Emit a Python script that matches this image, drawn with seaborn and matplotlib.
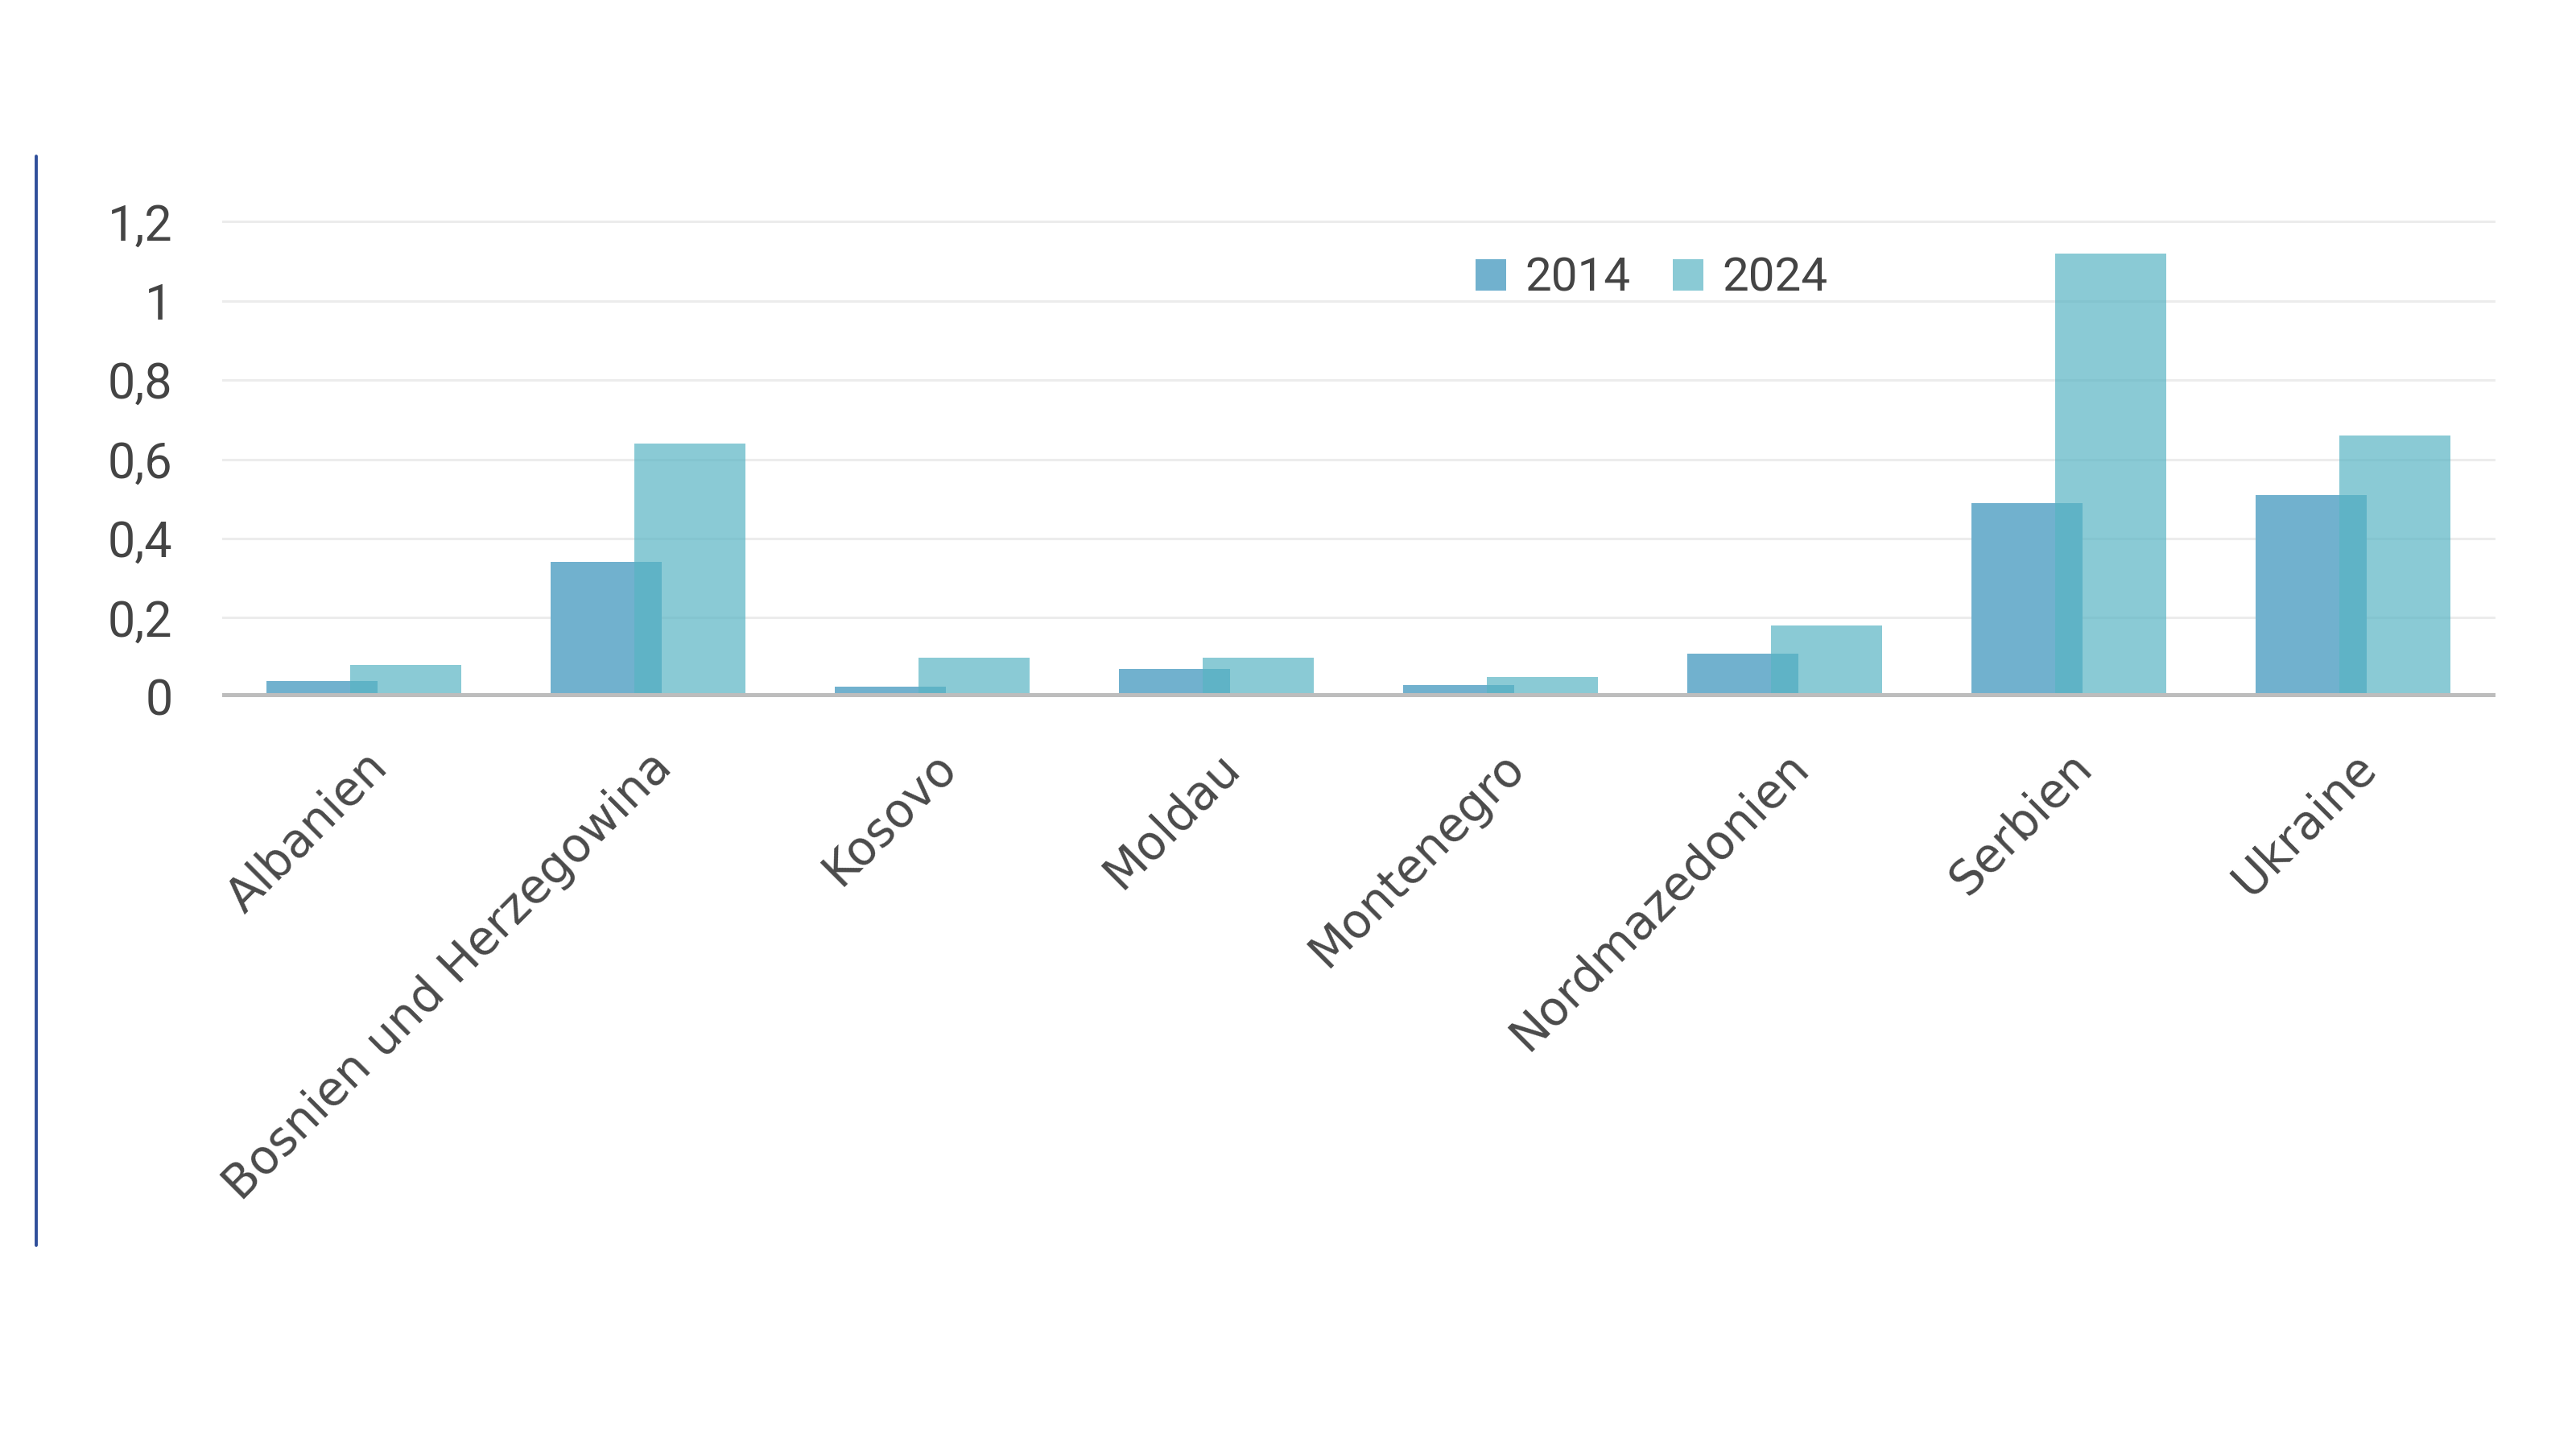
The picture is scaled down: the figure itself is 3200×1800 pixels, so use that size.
import numpy as np
import pandas as pd
import seaborn as sns
import matplotlib.pyplot as plt
from matplotlib.lines import Line2D
from matplotlib.ticker import FuncFormatter
import matplotlib.transforms as mtrans

# values
countries = ["Albanien", "Bosnien und Herzegowina", "Kosovo", "Moldau",
             "Montenegro", "Nordmazedonien", "Serbien", "Ukraine"]
v2014 = [0.04, 0.34, 0.025, 0.07, 0.03, 0.11, 0.49, 0.51]
v2024 = [0.08, 0.64, 0.10, 0.10, 0.05, 0.18, 1.12, 0.66]
yticks = [0, 0.2, 0.4, 0.6, 0.8, 1.0, 1.2]

c2014 = "#71b1ce"
c2024 = "#58b4c4"

sns.set_theme(style="white")
plt.rcParams['font.family'] = ['Roboto', 'DejaVu Sans']

idx = np.arange(len(countries))
df = pd.DataFrame({
    "pos": np.concatenate([idx - 0.147, idx + 0.147]),
    "value": v2014 + v2024,
    "year": ["2014"] * len(countries) + ["2024"] * len(countries),
})

fig = plt.figure(figsize=(16, 9), dpi=200)
ax = fig.add_axes([0.0861, 0.519, 0.8825, 0.3554])

d14 = df[df.year == "2014"]
d24 = df[df.year == "2024"]
sns.barplot(data=d14, x="pos", y="value", native_scale=True, width=0.391,
            color=c2014, saturation=1, linewidth=0, label="2014", ax=ax, zorder=2)
sns.barplot(data=d24, x="pos", y="value", native_scale=True, width=0.391,
            color=c2024, saturation=1, linewidth=0, alpha=0.7, label="2024",
            ax=ax, zorder=2)

ax.set_xlim(-0.5, len(countries) - 0.5)
ax.set_ylim(0, 1.3)
ax.set_yticks(yticks)
ax.yaxis.set_major_formatter(FuncFormatter(
    lambda v, p: ("%g" % round(v, 1)).replace(".", ",")))
ax.grid(axis="y", color="#ececec", linewidth=1.1, zorder=0)
ax.set_axisbelow(True)
ax.axhline(0, color="#bdbdbd", linewidth=4, zorder=3)

ax.set_xticks(idx)
ax.set_xticklabels(countries, rotation=45, ha="right", rotation_mode="anchor",
                   fontsize=21, color="#4a4a4a", family=["DejaVu Sans"])
shift = mtrans.ScaledTranslation(-8 / 72, 0, fig.dpi_scale_trans)
for lab in ax.get_xticklabels():
    lab.set_transform(lab.get_transform() + shift)
ax.tick_params(axis="x", length=0, pad=21)
ax.tick_params(axis="y", length=0, pad=22, labelsize=22, labelcolor="#444444")
ax.set_xlabel("")
ax.set_ylabel("")
for s in ax.spines.values():
    s.set_visible(False)

leg = ax.legend(loc="center", bbox_to_anchor=(0.629, 0.812), ncol=2, frameon=False,
                fontsize=21, handlelength=0.65, handleheight=0.65,
                handletextpad=0.4, columnspacing=0.9, labelcolor="#444444")

# blue vertical rule on the left edge
fig.add_artist(Line2D([45 / 3200, 45 / 3200], [1 - 194 / 1800, 1 - 1547 / 1800],
                      color="#2f4f9a", linewidth=1.4, transform=fig.transFigure))

fig.savefig("out.png", dpi=200, facecolor="white")
